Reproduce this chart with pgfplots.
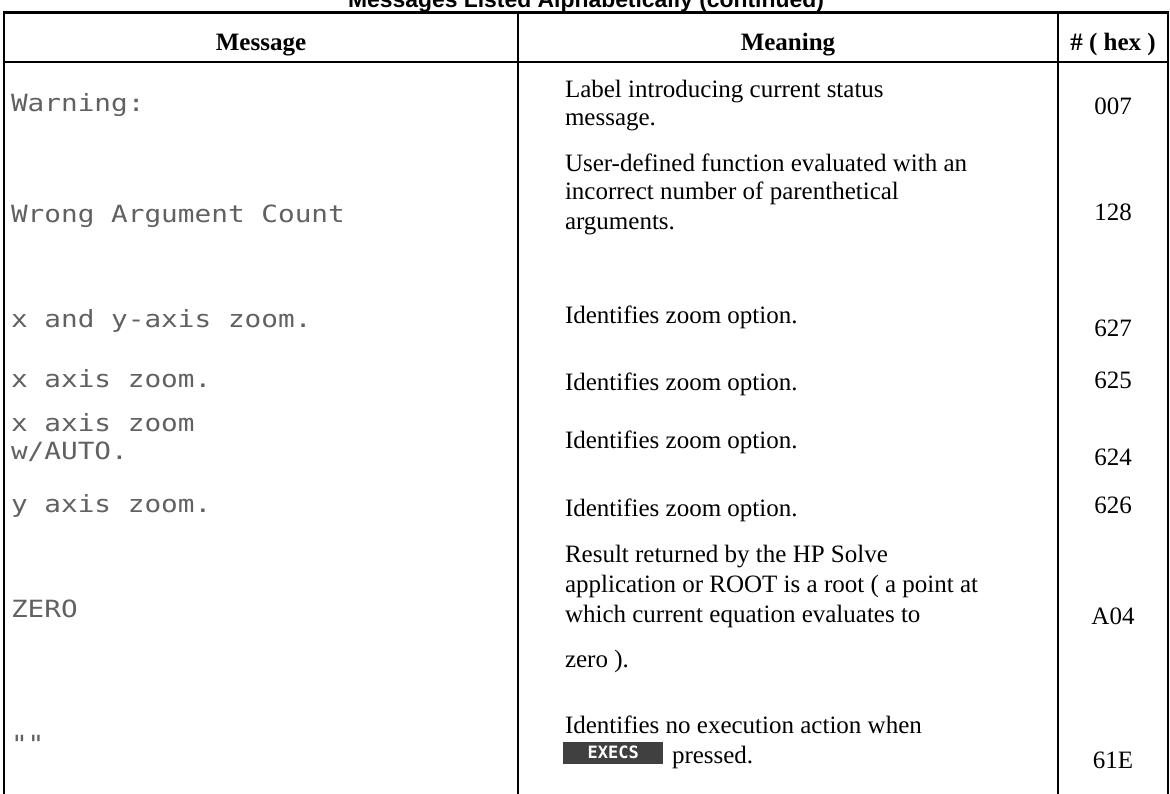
\documentclass[border=0pt]{standalone}
\usepackage{fontspec}
\setmainfont{Liberation Serif}
\newfontfamily\titlefont{Liberation Sans}
\newfontfamily\hpfont[FakeStretch=1.17]{DejaVu Sans Mono}
\newfontfamily\keyfont{DejaVu Sans Mono}
\usepackage{pgfplots}
\pgfplotsset{compat=1.18}
\newcommand{\bodyfont}{\fontsize{25bp}{29bp}\selectfont}
\newcommand{\hp}{\hpfont\fontsize{23.7bp}{28bp}\selectfont}
\tikzset{
  txt/.style={anchor=base west, inner sep=0pt, outer sep=0pt, font=\bodyfont},
  hex/.style={anchor=base, inner sep=0pt, outer sep=0pt, font=\bodyfont},
  hdr/.style={anchor=base, inner sep=0pt, outer sep=0pt, font=\bodyfont\bfseries},
  msg/.style={anchor=base west, inner sep=0pt, outer sep=0pt, font=\hp, text=black!62},
}
\begin{document}
\begin{tikzpicture}
\useasboundingbox (0,0) rectangle (1170bp,794bp);
\clip (0,0) rectangle (1170bp,794bp);
\begin{axis}[at={(0,0)}, anchor=south west, scale only axis,
  width=1170bp, height=794bp, xmin=0, xmax=1170, ymin=0, ymax=794,
  y dir=reverse, hide axis, clip=false]
% table rules
\addplot[black, line width=2.4bp, forget plot] coordinates {(3,12.5) (1169,12.5)};
\addplot[black, line width=2.4bp, forget plot] coordinates {(3,62) (1169,62)};
\addplot[black, line width=2.4bp, forget plot] coordinates {(4,11.3) (4,800)};
\addplot[black, line width=2.4bp, forget plot] coordinates {(518,11.3) (518,800)};
\addplot[black, line width=2.4bp, forget plot] coordinates {(1058,11.3) (1058,800)};
\addplot[black, line width=2.4bp, forget plot] coordinates {(1168,11.3) (1168,800)};
% title (cut at top)
\node[anchor=base, inner sep=0pt, font=\titlefont\fontsize{22.9bp}{26bp}\selectfont\bfseries] at (axis cs:586,7.5) {Messages Listed Alphabetically (continued)};
% header
\node[hdr] at (axis cs:261,51) {Message};
\node[hdr] at (axis cs:788,51) {Meaning};
\node[hdr] at (axis cs:1113,51) {\# ( hex )};
% row 1
\node[msg] at (axis cs:11,112) {Warning:};
\node[txt] at (axis cs:565,98) {Label introducing current status};
\node[txt] at (axis cs:565,126) {message.};
\node[hex] at (axis cs:1113,115) {007};
% row 2
\node[msg] at (axis cs:11,222) {Wrong Argument Count};
\node[txt] at (axis cs:565,172) {User-defined function evaluated with an};
\node[txt] at (axis cs:565,200) {incorrect number of parenthetical};
\node[txt] at (axis cs:565,229) {arguments.};
\node[hex] at (axis cs:1113,220) {128};
% row 3
\node[msg] at (axis cs:11,327) {x and y-axis zoom.};
\node[txt] at (axis cs:565,323) {Identifies zoom option.};
\node[hex] at (axis cs:1113,336) {627};
% row 4
\node[msg] at (axis cs:11,387) {x axis zoom.};
\node[txt] at (axis cs:565,390) {Identifies zoom option.};
\node[hex] at (axis cs:1113,388) {625};
% row 5
\node[msg] at (axis cs:11,431) {x axis zoom};
\node[msg] at (axis cs:11,459) {w/AUTO.};
\node[txt] at (axis cs:565,448) {Identifies zoom option.};
\node[hex] at (axis cs:1113,465) {624};
% row 6
\node[msg] at (axis cs:11,512) {y axis zoom.};
\node[txt] at (axis cs:565,516) {Identifies zoom option.};
\node[hex] at (axis cs:1113,513) {626};
% row 7
\node[msg] at (axis cs:11,617) {ZERO};
\node[txt] at (axis cs:565,562) {Result returned by the HP Solve};
\node[txt] at (axis cs:565,592) {application or ROOT is a root ( a point at};
\node[txt] at (axis cs:565,622) {which current equation evaluates to};
\node[txt] at (axis cs:565,667) {zero ).};
\node[hex] at (axis cs:1113,624) {A04};
% row 8
\node[msg] at (axis cs:11,752) {""};
\node[txt] at (axis cs:565,733) {Identifies no execution action when};
\node[anchor=south west, inner sep=0pt, fill=black!75, minimum width=100bp, minimum height=22bp, text=white, font=\keyfont\fontsize{17bp}{17bp}\selectfont\bfseries] at (axis cs:563,764) {EXECS};
\node[txt] at (axis cs:672,763) {pressed.};
\node[hex] at (axis cs:1113,768) {61E};
\end{axis}
\end{tikzpicture}
\end{document}
